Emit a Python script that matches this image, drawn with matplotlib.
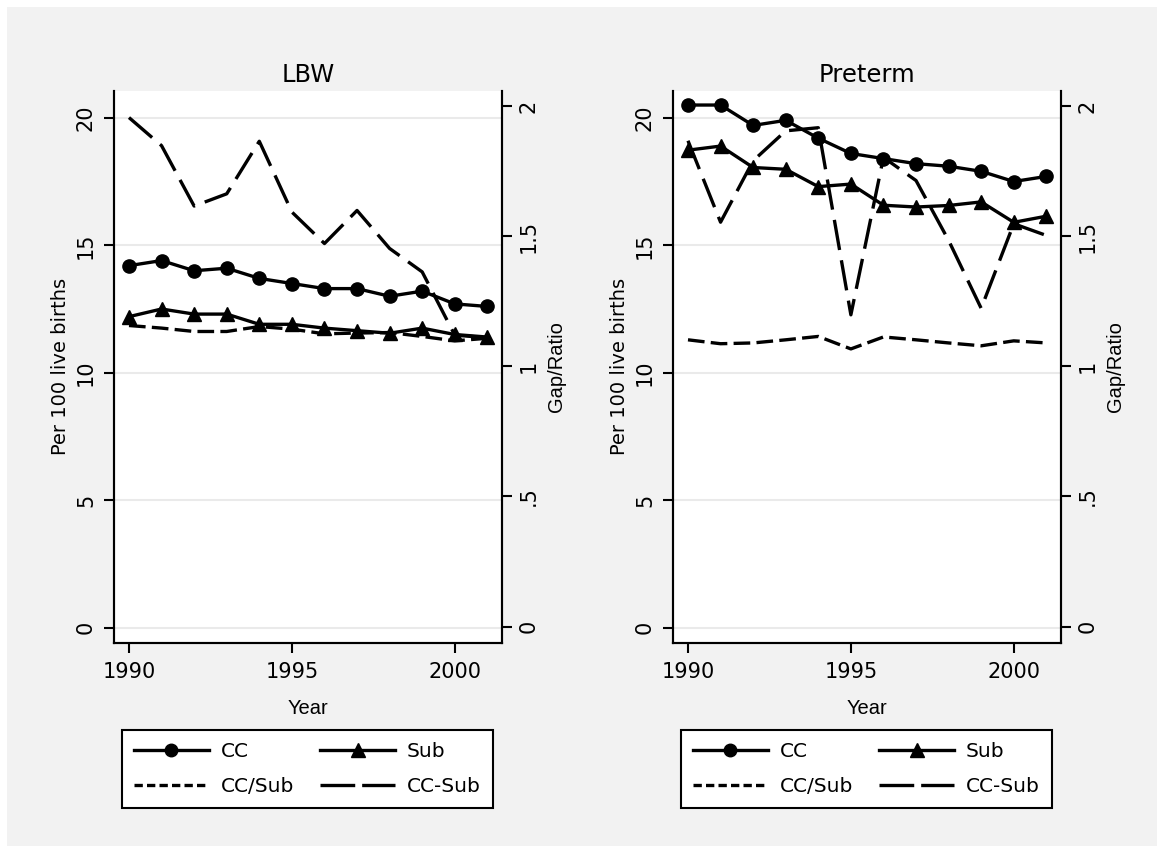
import matplotlib
matplotlib.use('Agg')
from matplotlib import pyplot as plt
from matplotlib.lines import Line2D
from matplotlib.patches import Rectangle

# rates per 100 live births, central city (CC) vs suburbs (Sub)
YEARS = list(range(1990, 2002))

LBW_CC = [14.2, 14.4, 14.0, 14.1, 13.7, 13.5, 13.3, 13.3, 13.0, 13.2, 12.7, 12.6]
LBW_SUB = [12.2, 12.5, 12.3, 12.3, 11.9, 11.9, 11.75, 11.65, 11.55, 11.75, 11.5, 11.4]
LBW_RATIO = [1.157, 1.147, 1.134, 1.134, 1.153, 1.143, 1.125, 1.128, 1.13, 1.115, 1.098, 1.108]
LBW_GAP = [1.956, 1.848, 1.616, 1.663, 1.865, 1.593, 1.472, 1.599, 1.453, 1.363, 1.12, 1.11]

PRE_CC = [20.5, 20.5, 19.7, 19.9, 19.2, 18.6, 18.4, 18.2, 18.1, 17.9, 17.5, 17.7]
PRE_SUB = [18.73, 18.89, 18.05, 17.98, 17.3, 17.4, 16.57, 16.5, 16.56, 16.7, 15.9, 16.14]
PRE_RATIO = [1.102, 1.087, 1.09, 1.102, 1.115, 1.067, 1.113, 1.102, 1.09, 1.079, 1.098, 1.09]
PRE_GAP = [1.867, 1.554, 1.79, 1.905, 1.917, 1.198, 1.803, 1.714, 1.484, 1.223, 1.548, 1.503]

TITLES = ['LBW', 'Preterm']
LEFT_TICKS = [0, 5, 10, 15, 20]
RIGHT_TICKS = [0, 0.5, 1, 1.5, 2]
RIGHT_TICK_LABELS = ['0', '.5', '1', '1.5', '2']
X_TICKS = [1990, 1995, 2000]
LABELS = ['CC', 'Sub', 'CC/Sub', 'CC-Sub']

W, H = 1157, 846
BG = '#f2f2f2'
GRID = '#eaeaea'
LW = 2.4
SHORT_DASH = (12, 4.5)
LONG_DASH = (22, 7.5)


def set_plt_params():
    plt.rcParams['font.family'] = ['DejaVu Sans']
    plt.rcParams['lines.scale_dashes'] = False
    plt.rcParams['xtick.major.size'] = 7
    plt.rcParams['ytick.major.size'] = 7
    plt.rcParams['xtick.major.width'] = 1.5
    plt.rcParams['ytick.major.width'] = 1.5
    plt.rcParams['xtick.direction'] = 'out'
    plt.rcParams['ytick.direction'] = 'out'


def draw_panel(fig, left, title, cc, sub, ratio, gap):
    rect = [left / W, 1 - 643 / H, 388 / W, 552.5 / H]
    ax = fig.add_axes(rect)
    ax2 = ax.twinx()

    ax.set_xlim(1989.54, 2001.45)
    ax.set_ylim(-0.6, 21.07)
    ax2.set_ylim(-0.063, 2.06)

    for y in LEFT_TICKS:
        ax.axhline(y, color=GRID, lw=1.5, zorder=0)

    ax.plot(YEARS, cc, color='black', lw=LW, marker='o', ms=9.5, zorder=3)
    ax.plot(YEARS, sub, color='black', lw=LW, marker='^', ms=10, zorder=3)
    ax2.plot(YEARS, ratio, color='black', lw=LW, dashes=SHORT_DASH)
    ax2.plot(YEARS, gap, color='black', lw=LW, dashes=LONG_DASH)

    ax.set_xticks(X_TICKS)
    ax.set_yticks(LEFT_TICKS)
    ax2.set_yticks(RIGHT_TICKS, RIGHT_TICK_LABELS)
    ax.tick_params(axis='x', labelsize=15, pad=7)
    ax.tick_params(axis='y', labelsize=15, labelrotation=90, pad=6)
    ax2.tick_params(axis='y', labelsize=15, labelrotation=90, pad=5)
    plt.setp(ax.get_yticklabels(), va='center')
    plt.setp(ax2.get_yticklabels(), va='center')

    for a in (ax, ax2):
        for s in a.spines.values():
            s.set_linewidth(1.5)
    ax.spines['top'].set_visible(False)
    ax2.spines['top'].set_visible(False)

    ax.set_title(title, fontsize=17.5, pad=6)
    ax.set_xlabel('Year', fontsize=14.5, labelpad=12, family='Liberation Sans')
    ax.set_ylabel('Per 100 live births', fontsize=14, labelpad=4)
    ax2.set_ylabel('Gap/Ratio', fontsize=14.5, labelpad=6, family='Liberation Sans')

    handles = [
        Line2D([], [], color='black', lw=LW, marker='o', ms=9),
        Line2D([], [], color='black', lw=LW, dashes=(6, 3)),
        Line2D([], [], color='black', lw=LW, marker='^', ms=10),
        Line2D([], [], color='black', lw=LW, dashes=(25, 5)),
    ]
    labels = [LABELS[0], LABELS[2], LABELS[1], LABELS[3]]
    leg = ax.legend(handles, labels, ncol=2, loc='upper left',
                    bbox_to_anchor=((left + 8) / W, 1 - 807 / H, 371 / W, 77 / H),
                    bbox_transform=fig.transFigure, mode='expand', borderaxespad=0,
                    fontsize=14.5, handlelength=3.7, handletextpad=0.6,
                    labelspacing=0.8, borderpad=0.6, numpoints=1,
                    fancybox=False, framealpha=1, edgecolor='black')
    leg.get_frame().set_linewidth(1.5)
    return ax


if __name__ == '__main__':
    set_plt_params()
    fig = plt.figure(figsize=(W / 100, H / 100), dpi=100, facecolor='white')
    fig.patches.append(Rectangle((7 / W, 0), 1, 1 - 7 / H, transform=fig.transFigure,
                                 facecolor=BG, edgecolor='none', zorder=-10))

    draw_panel(fig, 114, TITLES[0], LBW_CC, LBW_SUB, LBW_RATIO, LBW_GAP)
    draw_panel(fig, 673, TITLES[1], PRE_CC, PRE_SUB, PRE_RATIO, PRE_GAP)

    fig.savefig('out.png', dpi=100, facecolor='white')
